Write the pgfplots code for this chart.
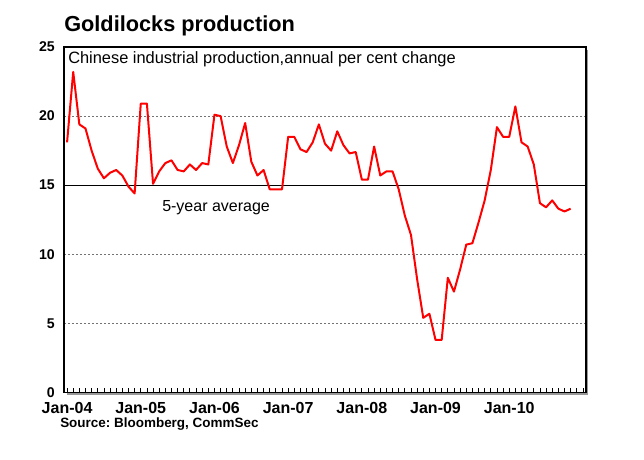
\documentclass[border=0pt]{standalone}
\usepackage{fontspec}
\setmainfont{Liberation Sans}
\usepackage{pgfplots}
\pgfplotsset{compat=1.18}
\usepackage{pgfplotstable}
\frenchspacing

% Chinese industrial production, annual % change, monthly from Jan 2004 (m = 0)
\pgfplotstableread{
m ip
0 18.1
1 23.2
2 19.4
3 19.1
4 17.5
5 16.2
6 15.5
7 15.9
8 16.1
9 15.7
10 14.9
11 14.4
12 20.9
13 20.9
14 15.1
15 16.0
16 16.6
17 16.8
18 16.1
19 16.0
20 16.5
21 16.1
22 16.6
23 16.5
24 20.1
25 20.0
26 17.8
27 16.6
28 17.9
29 19.5
30 16.7
31 15.7
32 16.1
33 14.7
34 14.7
35 14.7
36 18.5
37 18.5
38 17.6
39 17.4
40 18.1
41 19.4
42 18.0
43 17.5
44 18.9
45 17.9
46 17.3
47 17.4
48 15.4
49 15.4
50 17.8
51 15.7
52 16.0
53 16.0
54 14.7
55 12.8
56 11.4
57 8.2
58 5.4
59 5.7
60 3.8
61 3.8
62 8.3
63 7.3
64 8.9
65 10.7
66 10.8
67 12.3
68 13.9
69 16.1
70 19.2
71 18.5
72 18.5
73 20.7
74 18.1
75 17.8
76 16.5
77 13.7
78 13.4
79 13.9
80 13.3
81 13.1
82 13.3
}\iptable

% five-year average
\pgfplotstableread{
m avg
-0.5 15
84.5 15
}\avgtable

\begin{document}
\begin{tikzpicture}
\path[fill=white] (0,0) rectangle (483pt,345pt);
\begin{axis}[
  name=ax,
  at={(48pt,50.625pt)}, anchor=south west,
  scale only axis, width=391.5pt, height=259.125pt,
  xmin=-0.5, xmax=84.5, ymin=0, ymax=25,
  axis line style={line width=1pt},
  xtick={0,12,...,72},
  xticklabels={Jan-04,Jan-05,Jan-06,Jan-07,Jan-08,Jan-09,Jan-10},
  minor xtick={0,1,...,84},
  ytick={0,5,...,25},
  tick align=inside,
  xtick pos=bottom,
  ytick style={draw=none},
  xtick style={black, line width=0.6pt},
  major tick length=3pt, minor tick length=3pt,
  ymajorgrids,
  major grid style={black!55, line width=0.6pt, dash pattern=on 1.5pt off 1.5pt},
  /pgf/number format/assume math mode=true,
  xticklabel style={font=\bfseries\fontsize{12}{14}\selectfont, anchor=base, yshift=-15.6pt},
  yticklabel style={font=\bfseries\fontsize{10.6}{12}\selectfont, anchor=east, inner sep=0pt, xshift=-6.75pt},
]
\addplot[black, line width=0.75pt] table[x=m, y=avg]{\avgtable};
\addplot[red, line width=1.5pt, line join=round] table[x=m, y=ip]{\iptable};
\end{axis}
% soft shadow along the right and bottom of the frame
\draw[black!40, line width=1pt] ([xshift=1.25pt, yshift=-2pt]ax.north east) -- ([xshift=1.25pt, yshift=-1.25pt]ax.south east) -- ([xshift=2pt, yshift=-1.25pt]ax.south west);
\node[anchor=base west, inner sep=0pt, font=\bfseries\fontsize{16.3}{19}\selectfont] at (48pt,321pt) {Goldilocks production};
\node[anchor=base west, inner sep=0pt, font=\fontsize{12.3}{14}\selectfont] at (51pt,297.5pt) {Chinese industrial production,annual per cent change};
\node[anchor=base west, inner sep=0pt, font=\fontsize{12}{14}\selectfont] at (121.5pt,186.2pt) {5-year average};
\node[anchor=base west, inner sep=0pt, font=\bfseries\fontsize{10.1}{12}\selectfont] at (45pt,24.5pt) {Source: Bloomberg, CommSec};
\end{tikzpicture}
\end{document}
